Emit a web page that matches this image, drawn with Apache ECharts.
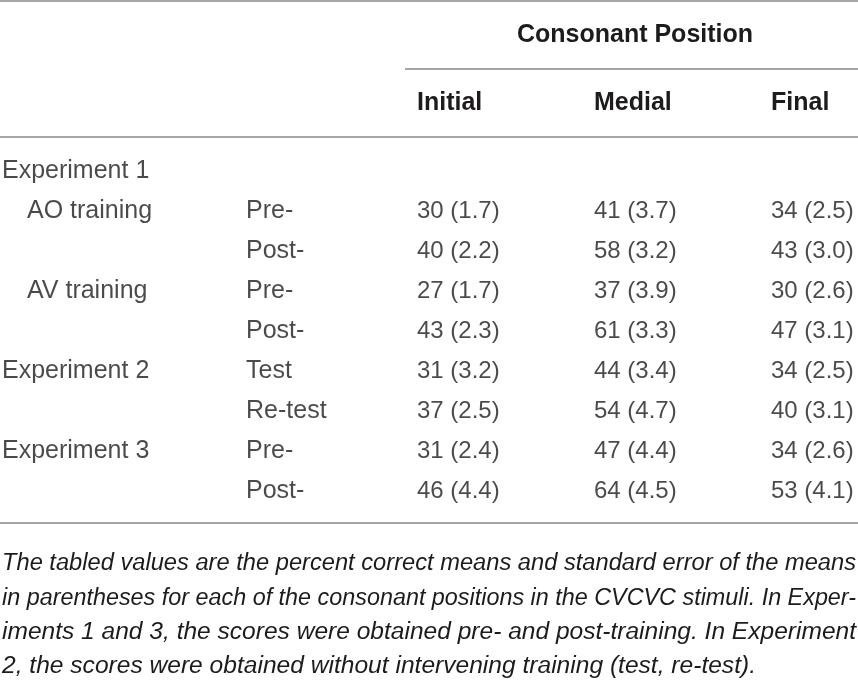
<!DOCTYPE html>
<html>
<head>
<meta charset="utf-8">
<script src="https://cdn.jsdelivr.net/npm/echarts@6/dist/echarts.min.js"></script>
<style>
  html, body { margin: 0; padding: 0; background: #fff; }
  #main { width: 858px; height: 685px; }
</style>
</head>
<body>
<div id="main"></div>
<script>
// table content
var tableTitle = "Consonant Position";
var positions = ["Initial", "Medial", "Final"];
var groups = ["Experiment 1", "AO training", "", "AV training", "", "Experiment 2", "", "Experiment 3", ""];
var groupLevel = [0, 1, 1, 1, 1, 0, 0, 0, 0];
var conditions = ["", "Pre-", "Post-", "Pre-", "Post-", "Test", "Re-test", "Pre-", "Post-"];
var initialMean = [null, 30, 40, 27, 43, 31, 37, 31, 46];
var initialSE = [null, "1.7", "2.2", "1.7", "2.3", "3.2", "2.5", "2.4", "4.4"];
var medialMean = [null, 41, 58, 37, 61, 44, 54, 47, 64];
var medialSE = [null, "3.7", "3.2", "3.9", "3.3", "3.4", "4.7", "4.4", "4.5"];
var finalMean = [null, 34, 43, 30, 47, 34, 40, 34, 53];
var finalSE = [null, "2.5", "3.0", "2.6", "3.1", "2.5", "3.1", "2.6", "4.1"];
var captionLines = [
  "The tabled values are the percent correct means and standard error of the means",
  "in parentheses for each of the consonant positions in the CVCVC stimuli. In Exper-",
  "iments 1 and 3, the scores were obtained pre- and post-training. In Experiment",
  "2, the scores were obtained without intervening training (test, re-test)."
];

var FONT = '"Liberation Sans", Arial, sans-serif';
var INK = "#1e1b1c";
var RULE = "#a6a6a6";

var rowKeys = groups.map(function (g, i) { return "r" + i; });
var means = [initialMean, medialMean, finalMean];
var ses = [initialSE, medialSE, finalSE];

var cellData = [];
means.forEach(function (col, c) {
  col.forEach(function (v, r) {
    if (v == null) return;
    cellData.push({ value: [c, r], text: v + " (" + ses[c][r] + ")" });
  });
});

var labelData = [];
groups.forEach(function (g, r) {
  if (g) labelData.push({ value: [0, r], text: g, label: { padding: [0, 0, 0, groupLevel[r] ? 25 : 0] } });
});
conditions.forEach(function (c, r) {
  if (c) labelData.push({ value: [1, r], text: c });
});

function cellLabel(size) {
  return {
    show: true,
    position: "right",
    distance: 0,
    align: "left",
    verticalAlign: "middle",
    color: INK,
    fontFamily: FONT,
    fontSize: size,
    formatter: function (p) { return p.data.text; }
  };
}

// caption lines, stretched to the column width like justified text
var ctx = document.createElement("canvas").getContext("2d");
var capFont = "italic 23px " + FONT;
ctx.font = capFont;
var capWidths = [854, 854, 854, 754];
var captionGraphics = captionLines.map(function (line, i) {
  var w = ctx.measureText(line).width;
  return {
    type: "text",
    x: 2, y: 564 + i * 34.3,
    scaleX: capWidths[i] / w,
    style: { text: line, font: capFont, fill: INK, verticalAlign: "middle", align: "left" }
  };
});

function rule(x1, y, x2) {
  return { type: "line", shape: { x1: x1, y1: y, x2: x2, y2: y }, style: { stroke: RULE, lineWidth: 2 } };
}

var myChart = echarts.init(document.getElementById("main"));
myChart.setOption({
  animation: false,
  title: {
    text: tableTitle,
    left: 630,
    top: 18,
    textAlign: "center",
    textStyle: { fontFamily: FONT, fontSize: 25, fontWeight: "bold", color: INK }
  },
  grid: [
    { left: 417, right: 87, top: 171, bottom: 194 },
    { left: 2, right: 612, top: 171, bottom: 194 }
  ],
  xAxis: [
    {
      gridIndex: 0, type: "category", data: positions, position: "top", boundaryGap: false,
      axisLine: { show: false }, axisTick: { show: false },
      axisLabel: { align: "left", margin: 55, fontFamily: FONT, fontSize: 25, fontWeight: "bold", color: INK }
    },
    { gridIndex: 1, type: "category", data: ["group", "condition"], boundaryGap: false, show: false }
  ],
  yAxis: [
    { gridIndex: 0, type: "category", data: rowKeys, inverse: true, boundaryGap: false, show: false },
    { gridIndex: 1, type: "category", data: rowKeys, inverse: true, boundaryGap: false, show: false }
  ],
  series: [
    { type: "scatter", xAxisIndex: 0, yAxisIndex: 0, symbolSize: 0, data: cellData, label: cellLabel(24), silent: true },
    { type: "scatter", xAxisIndex: 1, yAxisIndex: 1, symbolSize: 0, data: labelData, label: cellLabel(25), silent: true }
  ],
  graphic: [
    rule(0, 1, 858),
    rule(405, 69, 858),
    rule(0, 137, 858),
    rule(0, 523, 858)
  ].concat(captionGraphics)
});
</script>
</body>
</html>
